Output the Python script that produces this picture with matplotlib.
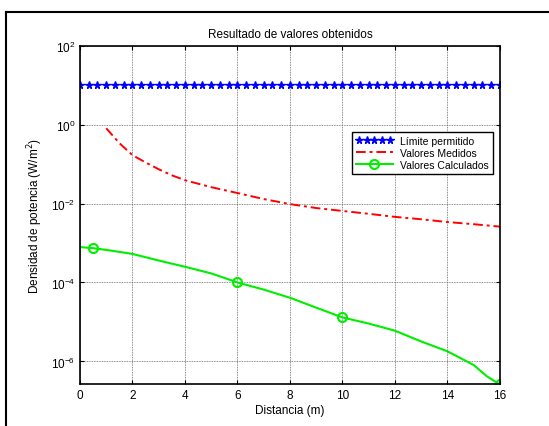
import numpy as np
import matplotlib
matplotlib.use("Agg")
import matplotlib.pyplot as plt
from matplotlib.ticker import NullLocator
from matplotlib.legend_handler import HandlerLine2D
from matplotlib.lines import Line2D

plt.rcParams['font.family'] = ['Liberation Sans', 'DejaVu Sans']

# limite permitido (W/m^2), constante
dist_lim = np.linspace(0, 16, 49)
lim_val = [10.0] * len(dist_lim)

# valores medidos
dist_med = [1, 1.5, 2, 2.5, 3, 3.5, 4, 5, 6, 7, 8, 9, 10, 11, 12, 13, 14, 15, 16]
val_med = [0.81, 0.34, 0.168, 0.11, 0.074, 0.052, 0.039, 0.026, 0.0185, 0.013,
           0.0097, 0.0077, 0.0065, 0.0055, 0.0046, 0.0040, 0.0034, 0.0030, 0.0026]

# valores calculados
dist_calc = [0, 0.5, 1, 2, 3, 4, 5, 6, 7, 8, 9, 10, 11, 12, 13, 14, 15, 15.5, 16]
val_calc = [7.9e-4, 7.4e-4, 6.7e-4, 5.3e-4, 3.6e-4, 2.5e-4, 1.7e-4, 1.0e-4, 6.6e-5,
            4.1e-5, 2.3e-5, 1.3e-5, 9.1e-6, 6.0e-6, 3.2e-6, 1.8e-6, 8.1e-7, 4.2e-7, 2.6e-7]
calc_marks = [1, 7, 11, 18]

y_ticks = [1e-6, 1e-4, 1e-2, 1e0, 1e2]

fig = plt.figure(figsize=(5.49, 4.27), dpi=100)
ax = fig.add_axes([0.1457, 0.0972, 0.765, 0.7934])

lim_line, = ax.plot(dist_lim, lim_val, linestyle='none', marker='*', color='#0000ff',
                    markersize=5.5, label='Límite permitido')
ax.plot(dist_med, val_med, linestyle=(0, (5, 2, 1.5, 2)), color='#ff0000', lw=1.4,
        label='Valores Medidos')
ax.plot(dist_calc, val_calc, '-', color='#00ee00', lw=1.5, marker='o', markersize=6.5,
        markerfacecolor='none', markeredgewidth=1.5, markevery=calc_marks,
        label='Valores Calculados')

ax.set_yscale('log')
ax.set_xlim(0, 16)
ax.set_ylim(min(val_calc), 100)
ax.set_xticks(range(0, 17, 2))
ax.set_yticks(y_ticks)
ax.yaxis.set_minor_locator(NullLocator())
ax.tick_params(direction='in', top=True, right=True, labelsize=8.5, length=3)
ax.grid(True, color='0.4', linestyle=(0, (1, 1)), lw=0.6)
for s in ax.spines.values():
    s.set_linewidth(1.2)

ax.set_title('Resultado de valores obtenidos', fontsize=8.5, pad=6)
ax.set_xlabel('Distancia (m)', fontsize=8.5, labelpad=2)
ax.set_ylabel('Densidad de potencia (W/m$^2$)', fontsize=8.5, labelpad=4)

leg = ax.legend(loc='upper right', bbox_to_anchor=(0.983, 0.745), fontsize=7.5,
                handler_map={lim_line: HandlerLine2D(numpoints=5)},
                fancybox=False, framealpha=1, edgecolor='black',
                borderpad=0.35, labelspacing=0.2, handlelength=3.6, handletextpad=0.7,
                borderaxespad=0)
leg.get_frame().set_linewidth(1.0)

# marco exterior
fig.add_artist(Line2D([5.5 / 549, 1], [1 - 12.5 / 427, 1 - 12.5 / 427],
                      transform=fig.transFigure, color='black', lw=1.5))
fig.add_artist(Line2D([5.5 / 549, 5.5 / 549], [0, 1 - 12.5 / 427],
                      transform=fig.transFigure, color='black', lw=1.5))

fig.savefig('out.png', dpi=100)
